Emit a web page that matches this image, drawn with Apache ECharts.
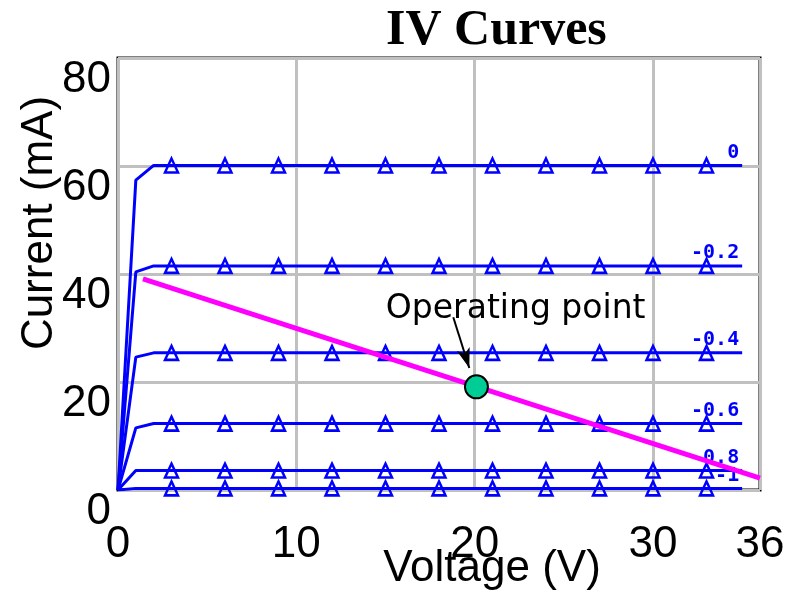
<!DOCTYPE html>
<html>
<head>
<meta charset="utf-8">
<title>IV Curves</title>
<script src="https://cdn.jsdelivr.net/npm/echarts@6/dist/echarts.min.js"></script>
<style>
  html, body { margin: 0; padding: 0; background: #fff; }
  #chart { width: 798px; height: 597px; }
</style>
</head>
<body>
<div id="chart"></div>
<script>
// 数据
const voltages = [0, 1, 2, 3, 6, 9, 12, 15, 18, 21, 24, 27, 30, 33, 35];
const gateLabels = ['0', '-0.2', '-0.4', '-0.6', '-0.8', '-1'];
const currents = [
  [0, 57.4, 60.1, 60.1, 60.1, 60.1, 60.1, 60.1, 60.1, 60.1, 60.1, 60.1, 60.1, 60.1, 60.1],
  [0, 40.4, 41.5, 41.5, 41.5, 41.5, 41.5, 41.5, 41.5, 41.5, 41.5, 41.5, 41.5, 41.5, 41.5],
  [0, 24.6, 25.4, 25.4, 25.4, 25.4, 25.4, 25.4, 25.4, 25.4, 25.4, 25.4, 25.4, 25.4, 25.4],
  [0, 11.5, 12.3, 12.3, 12.3, 12.3, 12.3, 12.3, 12.3, 12.3, 12.3, 12.3, 12.3, 12.3, 12.3],
  [0, 3.6, 3.6, 3.6, 3.6, 3.6, 3.6, 3.6, 3.6, 3.6, 3.6, 3.6, 3.6, 3.6, 3.6],
  [0, 0.3, 0.3, 0.3, 0.3, 0.3, 0.3, 0.3, 0.3, 0.3, 0.3, 0.3, 0.3, 0.3, 0.3]
];
const loadLineV = [1.4, 36];
const loadLineI = [39.1, 2.2];
const opPoint = [20.1, 19.1];
const arrowFrom = [18.8, 32.0];
const arrowTo = [19.7, 22.6];
const noteAt = [22.3, 33.4];
const noteText = 'Operating point';
const xMax = 36;
const yMax = 80;

const blue = '#0000ff';
const labelFont = 'Liberation Sans, Arial, sans-serif';

let chart = echarts.init(document.getElementById('chart'));

// IV 曲线
let curveSeries = gateLabels.map((name, i) => ({
  name: name,
  type: 'line',
  data: voltages.map((v, j) => {
    let item = { value: [v, currents[i][j]] };
    if (v < 3 || v > 33) item.symbol = 'none'; // 只在 3..33 画三角
    return item;
  }),
  symbol: 'triangle',
  symbolSize: [13, 14],
  showAllSymbol: true,
  lineStyle: { color: blue, width: 3 },
  itemStyle: { color: 'transparent', borderColor: blue, borderWidth: 2.5 },
  endLabel: {
    show: true,
    formatter: '{a}',
    align: 'right',
    verticalAlign: 'bottom',
    distance: 0,
    offset: [-3, -3],
    color: blue,
    fontFamily: 'DejaVu Sans Mono, monospace',
    fontWeight: 'bold',
    fontSize: 20
  },
  z: 3
}));

let option = {
  animation: false,
  title: {
    text: 'IV Curves',
    left: 381,
    top: 1,
    textStyle: {
      fontFamily: 'Liberation Serif, Times New Roman, serif',
      fontWeight: 'bold',
      fontSize: 50,
      color: '#000'
    }
  },
  grid: {
    left: 118,
    top: 58,
    right: 38,
    bottom: 107,
    outerBoundsMode: 'none',
    containLabel: false,
    show: true,
    borderColor: '#000',
    borderWidth: 3,
    backgroundColor: '#fff'
  },
  xAxis: {
    type: 'value',
    min: 0,
    max: xMax,
    interval: 10,
    name: 'Voltage (V)',
    nameLocation: 'middle',
    nameMoveOverlap: false,
    nameGap: 57,
    nameTextStyle: {
      fontFamily: labelFont,
      fontSize: 44,
      color: '#000',
      padding: [0, 0, 0, 106]
    },
    axisLine: { show: false },
    axisTick: { show: false },
    axisLabel: {
      showMaxLabel: true,
      margin: 33,
      fontFamily: labelFont,
      fontSize: 44,
      color: '#000'
    },
    splitLine: { show: true, lineStyle: { color: '#c0c0c0', width: 3 } }
  },
  yAxis: {
    type: 'value',
    min: 0,
    max: yMax,
    interval: 20,
    name: 'Current (mA)',
    nameLocation: 'middle',
    nameMoveOverlap: false,
    nameGap: 56,
    nameTextStyle: {
      fontFamily: labelFont,
      fontSize: 44,
      color: '#000',
      padding: [0, 0, 0, 102]
    },
    axisLine: { show: false },
    axisTick: { show: false },
    axisLabel: {
      margin: 7,
      verticalAlign: 'top',
      fontFamily: labelFont,
      fontSize: 44,
      color: '#000'
    },
    splitLine: { show: true, lineStyle: { color: '#c0c0c0', width: 3 } }
  },
  series: curveSeries.concat([
    {
      name: 'load',
      type: 'line',
      data: loadLineV.map((v, i) => [v, loadLineI[i]]),
      symbol: 'none',
      lineStyle: { color: '#ff00ff', width: 5 },
      z: 4
    },
    {
      name: 'op',
      type: 'scatter',
      data: [opPoint],
      symbol: 'circle',
      symbolSize: 23,
      itemStyle: { color: '#00cc96', borderColor: '#000', borderWidth: 2, opacity: 1 },
      z: 6,
      markLine: {
        silent: true,
        symbol: ['none', 'arrow'],
        symbolSize: [10, 20],
        label: { show: false },
        lineStyle: { color: '#000', width: 2, type: 'solid' },
        data: [[{ coord: arrowFrom }, { coord: arrowTo }]]
      },
      markPoint: {
        silent: true,
        symbol: 'circle',
        symbolSize: 0,
        data: [{ coord: noteAt, value: noteText }],
        label: {
          show: true,
          position: 'inside',
          formatter: noteText,
          fontFamily: 'DejaVu Sans, sans-serif',
          fontSize: 33,
          color: '#000'
        }
      }
    }
  ])
};

chart.setOption(option);
</script>
</body>
</html>
